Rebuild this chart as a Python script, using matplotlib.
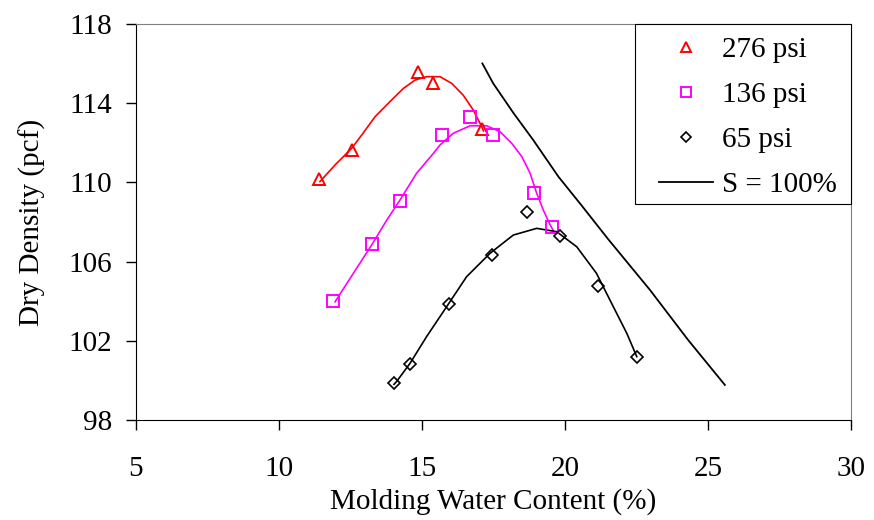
import numpy as np
import matplotlib.pyplot as plt
from matplotlib.patches import Rectangle

plt.rcParams['font.family'] = ['Liberation Serif', 'DejaVu Serif']

# measured compaction points
w_276 = [11.40, 12.54, 14.86, 15.40, 17.10]
d_276 = [110.16, 111.64, 115.56, 115.00, 112.68]

w_136 = [11.90, 13.26, 14.22, 15.71, 16.67, 17.49, 18.93, 19.55]
d_136 = [104.03, 106.89, 109.06, 112.39, 113.30, 112.38, 109.45, 107.76]

w_65 = [14.02, 14.59, 15.94, 17.45, 18.67, 19.83, 21.14, 22.51]
d_65 = [99.85, 100.81, 103.86, 106.35, 108.49, 107.29, 104.77, 101.20]

# smoothed trend curves through each set
cw_276 = [11.43, 11.96, 12.54, 12.89, 13.36, 13.88, 14.35, 14.76, 15.16, 15.63, 16.04, 16.44, 16.79, 17.09, 17.15]
cd_276 = [110.04, 110.88, 111.72, 112.39, 113.32, 114.08, 114.75, 115.17, 115.34, 115.34, 115.00, 114.41, 113.66, 112.81, 112.60]

cw_136 = [11.96, 12.60, 13.24, 13.77, 14.23, 14.81, 15.40, 15.63, 16.09, 16.68, 17.26, 17.73, 18.14, 18.49, 18.78, 19.01, 19.24, 19.48, 19.62]
cd_136 = [103.97, 105.41, 106.84, 108.10, 109.11, 110.46, 111.47, 111.89, 112.48, 112.86, 112.86, 112.56, 111.97, 111.30, 110.46, 109.45, 108.61, 107.85, 107.50]

cw_65 = [14.02, 14.11, 14.58, 15.16, 15.86, 16.56, 17.38, 18.19, 19.01, 19.71, 20.41, 21.10, 21.69, 22.16, 22.51]
cd_65 = [99.80, 99.94, 100.86, 102.21, 103.72, 105.24, 106.42, 107.34, 107.68, 107.51, 106.75, 105.41, 103.72, 102.38, 101.20]

# zero air voids line
w_sat = [17.11, 17.49, 18.20, 18.89, 19.77, 20.60, 21.50, 22.97, 24.30, 25.59]
d_sat = [116.01, 115.00, 113.50, 112.14, 110.29, 108.80, 107.15, 104.57, 102.05, 99.77]

fig = plt.figure(figsize=(8.74, 5.2), dpi=100)
ax = fig.add_axes([0.1556, 0.1923, 0.8181, 0.7615])

ax.plot(cw_276, cd_276, color='#FF0000', lw=1.2)
ax.plot(cw_136, cd_136, color='#FF00FF', lw=1.2)
ax.plot(cw_65, cd_65, color='black', lw=1.2)

ax.plot(w_276, d_276, ls='none', marker='^', ms=9, mfc='none', mec='#FF0000', mew=1.4, label='276 psi')
ax.plot(w_136, d_136, ls='none', marker='s', ms=8, mfc='none', mec='#FF00FF', mew=1.4, label='136 psi')
ax.plot(w_65, d_65, ls='none', marker='D', ms=6.5, mfc='none', mec='black', mew=1.2, label='65 psi')
ax.plot(w_sat, d_sat, color='black', lw=1.3, label='S = 100%')

ax.set_xlim(5, 30)
ax.set_ylim(98, 118)
ax.set_xticks(range(5, 31, 5))
ax.set_yticks(range(98, 119, 4))
ax.tick_params(labelsize=21, direction='out', length=7.2, width=1)
ax.tick_params(axis='x', pad=19)
ax.tick_params(axis='y', pad=10)

for side in ['top', 'right']:
    ax.spines[side].set_color('#808080')
for side in ['left', 'bottom']:
    ax.spines[side].set_color('black')

ax.set_xlabel('Molding Water Content (%)', fontsize=21, labelpad=4)
ax.set_ylabel('Dry Density (pcf)', fontsize=21, labelpad=16)

# legend box drawn separately so the entries can sit off-centre inside it
box = Rectangle((0.698, 0.5455), 0.302, 0.4545, transform=ax.transAxes,
                facecolor='white', edgecolor='black', lw=0.8, zorder=4.9, clip_on=False)
ax.add_patch(box)
leg = ax.legend(loc='upper left', bbox_to_anchor=(0.7315, 0.968), fontsize=21,
                frameon=False, borderaxespad=0, borderpad=0, handlelength=1.85,
                labelspacing=0.64, handletextpad=0.3, markerscale=0.85)
leg.set_zorder(5)

fig.savefig('out.png', dpi=100)
